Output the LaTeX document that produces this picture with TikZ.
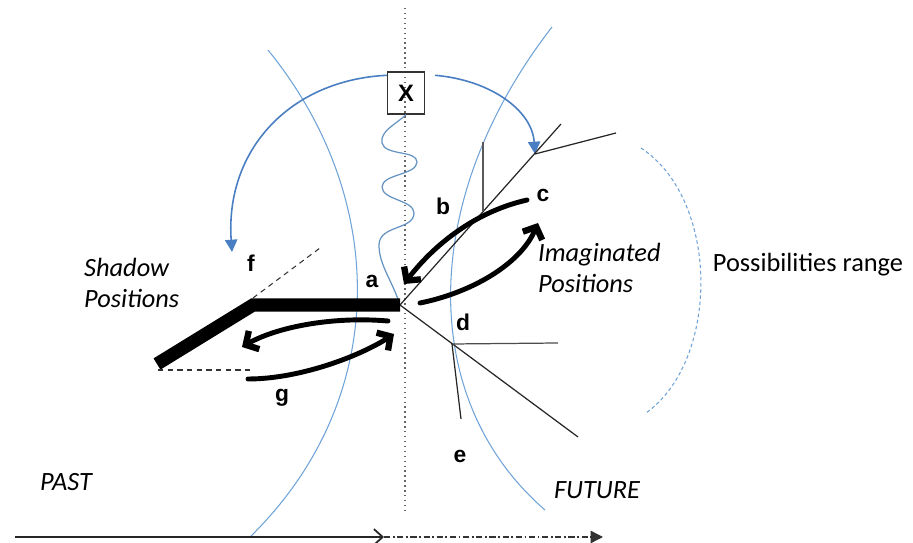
\documentclass[tikz,border=0pt]{standalone}
\usepackage{fontspec}
\setmainfont{Carlito}
\newfontfamily\letterfont{Liberation Sans}
\usetikzlibrary{arrows.meta, calc}

\definecolor{rimblue}{HTML}{6FA3D8}
\definecolor{jumpblue}{HTML}{4A7EC2}

\begin{document}
\begin{tikzpicture}[
    x=0.02cm, y=-0.02cm,
    rim/.style={rimblue, line width=0.6pt},
    rangearc/.style={rimblue, line width=0.6pt, dash pattern=on 2pt off 1.5pt},
    jump/.style={jumpblue, line width=0.9pt, -{Triangle[length=7pt, width=7pt]}},
    branch/.style={black!85, line width=0.7pt},
    bar/.style={black, line width=7.5pt, line join=miter},
    ghost/.style={black!80, line width=0.6pt, dash pattern=on 3pt off 2.5pt},
    swing/.style={black, line width=2.8pt, line cap=round, -{Straight Barb[length=5.5pt, width=12pt, line width=3.6pt]}},
    letter/.style={font=\letterfont\bfseries\fontsize{13pt}{15pt}\selectfont},
    caption/.style={font=\itshape\fontsize{15pt}{18pt}\selectfont, align=left},
    xbox/.style={draw=black!80, line width=0.7pt, minimum width=21pt, minimum height=24pt, inner sep=0pt, font=\letterfont\bfseries\fontsize{13.5pt}{15pt}\selectfont}
]
\useasboundingbox (0,0) rectangle (913,543);

% Coordinates
\coordinate (nowTop) at (405,8);
\coordinate (nowBottom) at (405,511);
\coordinate (a) at (400,305);
\coordinate (elbow) at (253,305);
\coordinate (shadowEnd) at (157,364);
\coordinate (fTip) at (320,248);
\coordinate (gLeft) at (158,370);
\coordinate (gRight) at (253,370);
\coordinate (bFork) at (535,154);
\coordinate (bEnd) at (561,124);
\coordinate (bSide) at (616,133);
\coordinate (bStem) at (483,142);
\coordinate (bFoot) at (483,211);
\coordinate (d) at (452,344);
\coordinate (dEnd) at (578,437);
\coordinate (dSide) at (558,343);
\coordinate (eEnd) at (461,419);
\coordinate (tStart) at (15,537);
\coordinate (tNow) at (384,537);
\coordinate (tEnd) at (603,537);

% Circles of the present
\draw[rim] (268,50) .. controls (390,200) and (390,400) .. (250,537);
\draw[rim] (552,27) .. controls (418,200) and (418,400) .. (545,510);
\draw[rangearc] (641,148) .. controls (720,200) and (720,360) .. (646,413);

% Now line and X
\draw[black!60, line width=0.8pt, dotted] (nowTop) -- (nowBottom);
\node (x) [xbox] at (406,93) {X};
\draw[rimblue!90!black, line width=0.7pt] (x.south) .. controls (395,125) and (380,131) .. (382,143)
    .. controls (385,156) and (417,150) .. (417,162)
    .. controls (417,175) and (382,174) .. (382,187)
    .. controls (382,200) and (414,200) .. (414,213)
    .. controls (414,230) and (379,225) .. (379,245)
    .. controls (379,265) and (392,280) .. (a);

% Jumps
\draw[jump] (x.north west) ++(0,4) .. controls (290,80) and (225,150) .. (232,252);
\draw[jump] (x.north east) ++(10,4) .. controls (490,80) and (532,110) .. (bFork);

% Branches
\draw[branch] (a) -- (bEnd);
\draw[branch] (bFork) -- (bSide);
\draw[branch, black!65] (bStem) -- (bFoot);
\draw[branch] (a) -- (dEnd);
\draw[branch, black!70] (d) -- (dSide);
\draw[branch] (d) -- (eEnd);

% Shadow
\draw[bar] (shadowEnd) -- (elbow) -- (a);
\draw[ghost] (elbow) ++(0,-7) -- (fTip);
\draw[ghost] (gLeft) -- (gRight);

% Swings
\coordinate (cStart) at (527,200);
\coordinate (aIn) at (404,284);
\coordinate (aOut) at (420,303);
\coordinate (cIn) at (538,223);
\coordinate (gStart) at (248,379);
\coordinate (aLow) at (394,334);
\coordinate (aBack) at (388,321);
\coordinate (shadowIn) at (242,347);
\draw[swing] (cStart) .. controls (470,213) and (430,250) .. (aIn);
\draw[swing] (aOut) .. controls (470,293) and (520,265) .. (cIn);
\draw[swing] (aBack) .. controls (330,316) and (275,328) .. (shadowIn);
\draw[swing] (gStart) .. controls (300,379) and (360,356) .. (aLow);

% Labels
\node (la) [letter] at (372,281) {a};
\node (lb) [letter] at (443,206) {b};
\node (lc) [letter] at (543,195) {c};
\node (ld) [letter] at (463,322) {d};
\node (le) [letter] at (460,456) {e};
\node (lf) [letter] at (251,263) {f};
\node (lg) [letter] at (282,398) {g};

\node (shadow) [caption, anchor=west] at (78,283) {Shadow\\Positions};
\node (imag) [caption, anchor=west] at (532,268) {Imaginated\\Positions};
\node (poss) [font=\fontsize{15pt}{18pt}\selectfont] at (808,265) {Possibilities range};
\node (past) [caption] at (66,482) {PAST};
\node (future) [caption] at (597,490) {FUTURE};

% Time line
\draw[black!85, line width=1pt, -{Straight Barb[length=5pt, width=9pt, line width=1pt]}] (tStart) -- (tNow);
\draw[black!80, line width=0.8pt, dash pattern=on 3.5pt off 1.5pt on 1pt off 1.5pt, -{Triangle[length=7pt, width=7pt]}] (tNow) -- (tEnd);

\end{tikzpicture}
\end{document}
